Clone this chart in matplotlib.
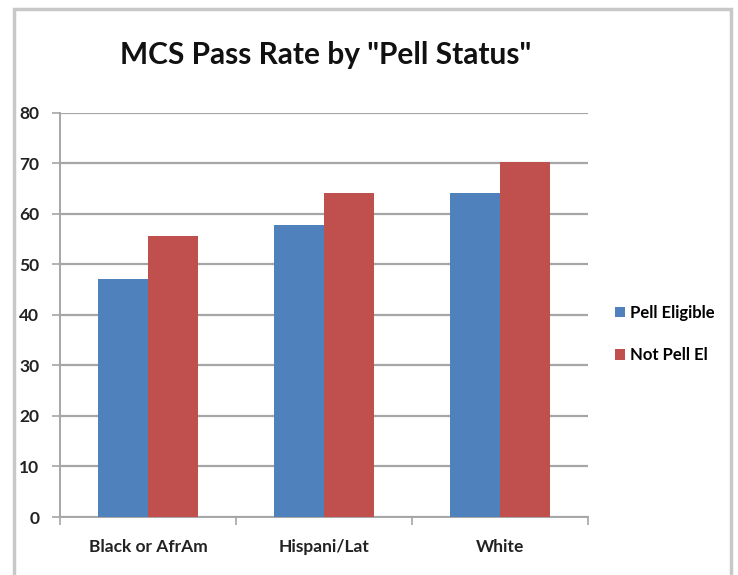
import numpy as np
import matplotlib
matplotlib.use('Agg')
import matplotlib.pyplot as plt
from matplotlib.patches import Rectangle

# data
groups = ['Black or AfrAm', 'Hispani/Lat', 'White']
pell_eligible = [47, 57.7, 64]
not_pell = [55.6, 64, 70.3]
series_names = ['Pell Eligible', 'Not Pell El']
y_ticks = [0, 10, 20, 30, 40, 50, 60, 70, 80]

blue = '#4F81BD'
red = '#C0504D'
grid_col = '#A6A6A6'

plt.rcParams['font.family'] = ['Lato', 'DejaVu Sans']

fig = plt.figure(figsize=(7.38, 5.75), dpi=100)
ax = fig.add_axes([60 / 738, 1 - 517 / 575, 528 / 738, (517 - 112.5) / 575])

x = np.arange(len(groups))
w = 0.283
ax.bar(x - w / 2, pell_eligible, w, color=blue, label=series_names[0], zorder=3)
ax.bar(x + w / 2, not_pell, w, color=red, label=series_names[1], zorder=3)

ax.set_xlim(-0.5, len(groups) - 0.5)
ax.set_ylim(0, 80)
ax.set_yticks(y_ticks)
ax.yaxis.grid(True, color=grid_col, linewidth=1.6, zorder=0)
ax.tick_params(axis='y', length=6, width=1.2, color=grid_col, pad=9,
               labelsize=12.5, labelcolor='#222222')
for lab in ax.get_yticklabels():
    lab.set_fontweight('bold')

ax.set_xticks(x)
ax.set_xticklabels(groups, fontsize=12.5, fontweight='bold', color='#222222')
ax.set_xticks(np.arange(len(groups) + 1) - 0.5, minor=True)
ax.tick_params(axis='x', which='major', length=0, pad=16)
ax.tick_params(axis='x', which='minor', length=6, width=1.2, color=grid_col)

for s in ['top', 'right']:
    ax.spines[s].set_visible(False)
for s in ['left', 'bottom']:
    ax.spines[s].set_color(grid_col)
    ax.spines[s].set_linewidth(1.4)

fig.text(326 / 738, 1 - 55 / 575, 'MCS Pass Rate by "Pell Status"',
         fontsize=21.5, fontweight='bold', ha='center', va='center',
         color='#111111')

ax.legend(loc='center left', bbox_to_anchor=(600 / 738, 1 - 334 / 575),
          bbox_transform=fig.transFigure, frameon=False,
          prop={'size': 12, 'weight': 'bold'}, handlelength=0.6,
          handleheight=0.6, handletextpad=0.3, labelspacing=1.6)

# light gray frame round the chart
fig.patches.append(Rectangle((14 / 738, -0.01), 717 / 738, 1 - 9 / 575 + 0.01,
                             transform=fig.transFigure, fill=False,
                             edgecolor='#C8C8C8', linewidth=2.5))

fig.savefig('out.png', dpi=100)
